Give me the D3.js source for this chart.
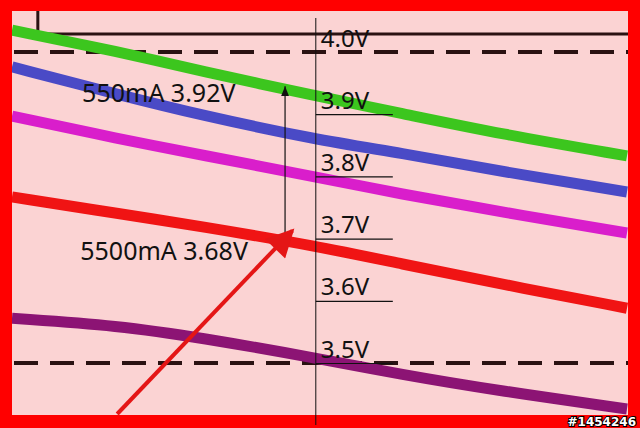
<!DOCTYPE html>
<html><head><meta charset="utf-8">
<script src="https://cdn.jsdelivr.net/npm/d3@7"></script>
<style>html,body{margin:0;padding:0;background:#ff0000;}svg{display:block;}</style>
</head><body>
<svg id="c" width="640" height="428"></svg>
<script>
// Data (x = relative discharge position 0..100, values = voltage in V)
const xs       = [0, 17.5, 30.5, 49.5, 63, 79.5, 100];
const green    = [4.035, 4.000, 3.970, 3.929, 3.902, 3.868, 3.833];
const blue     = [3.976, 3.931, 3.899, 3.859, 3.838, 3.808, 3.775];
const magenta  = [3.897, 3.860, 3.835, 3.799, 3.772, 3.743, 3.709];
const red      = [3.767, 3.740, 3.720, 3.688, 3.660, 3.627, 3.588];
const purple   = [3.572, 3.560, 3.541, 3.508, 3.482, 3.455, 3.426];
const tickVals = [4.0, 3.9, 3.8, 3.7, 3.6, 3.5];
const tickLabels = ["4.0V", "3.9V", "3.8V", "3.7V", "3.6V", "3.5V"];
const refLevels = [4.0, 3.5];
const annotations = [
  {text: "550mA 3.92V", x: 11.4, v: 3.92},
  {text: "5500mA 3.68V", x: 11.1, v: 3.665}
];
const measureX = 44.4, measureV = [3.945, 3.677];
const pointerFrom = [17.1, 3.418], pointerTo = [45.6, 3.713];
const yAxisX = 49.4;

const series = [
  {name: "green", values: green, color: "#3cc61e"},
  {name: "blue", values: blue, color: "#4a4ac6"},
  {name: "magenta", values: magenta, color: "#d91ecb"},
  {name: "red", values: red, color: "#f01414"},
  {name: "purple", values: purple, color: "#8c1474"}
];

const svg = d3.select("#c");
const L = 12, R = 628, T = 11, B = 415;
const x = d3.scaleLinear().domain([0, 100]).range([L, 627]);
const y = d3.scaleLinear().domain([3.5, 4.0]).range([363, 52]);

svg.append("rect").attr("width", 640).attr("height", 428).attr("fill", "#ff0000");
svg.append("rect").attr("x", L).attr("y", T).attr("width", R - L).attr("height", B - T).attr("fill", "#fbd3d3");

const defs = svg.append("defs");
defs.append("clipPath").attr("id", "plot").append("rect")
  .attr("x", L).attr("y", T).attr("width", R - L).attr("height", B - T);

const g = svg.append("g").attr("clip-path", "url(#plot)");

// top-left bracket line
g.append("path")
  .attr("d", `M${x(4.2)},${T} V34 H${R}`)
  .attr("fill", "none").attr("stroke", "#2a1212").attr("stroke-width", 3);

// dashed reference levels
g.selectAll(".ref").data(refLevels).join("line")
  .attr("x1", L).attr("x2", R)
  .attr("y1", d => y(d)).attr("y2", d => y(d))
  .attr("stroke", "#2a1212").attr("stroke-width", 4)
  .attr("stroke-dasharray", "24 12").attr("stroke-dashoffset", -2);

const line = d3.line().x((d, i) => x(xs[i])).y(d => y(d)).curve(d3.curveBasis);
g.selectAll(".s").data(series).join("path")
  .attr("d", d => line(d.values))
  .attr("fill", "none").attr("stroke", d => d.color)
  .attr("stroke-width", 11).attr("stroke-linecap", "butt");

// axis
const axis = d3.axisRight(y).tickValues(tickVals).tickSize(77)
  .tickFormat((d, i) => tickLabels[i]);
const ag = svg.append("g").attr("transform", `translate(${x(yAxisX)},0)`).call(axis);
ag.select(".domain").remove();
ag.selectAll(".tick line").attr("stroke", "#111").attr("stroke-width", 1.2)
  .attr("opacity", d => d === 4.0 ? 0 : 1);
ag.selectAll(".tick text").attr("x", 5).attr("y", -6).attr("dy", 0)
  .attr("text-anchor", "start")
  .style("font-family", "'Noto Sans', 'Open Sans', sans-serif").style("font-size", "24px")
  .attr("fill", "#111");
svg.append("line").attr("x1", x(yAxisX)).attr("x2", x(yAxisX)).attr("y1", 18).attr("y2", 425)
  .attr("stroke", "#111").attr("stroke-width", 1);

// measurement double arrow
defs.append("marker").attr("id", "ah").attr("viewBox", "0 0 10 10")
  .attr("refX", 10).attr("refY", 5).attr("markerWidth", 10).attr("markerHeight", 10)
  .attr("markerUnits", "userSpaceOnUse").attr("orient", "auto-start-reverse")
  .append("path").attr("d", "M0,1 L10,5 L0,9 Z").attr("fill", "#111");
svg.append("line")
  .attr("x1", x(measureX)).attr("x2", x(measureX))
  .attr("y1", y(measureV[0])).attr("y2", y(measureV[1]))
  .attr("stroke", "#111").attr("stroke-width", 1.2)
  .attr("marker-start", "url(#ah)").attr("marker-end", "url(#ah)");

// red pointer arrow
defs.append("marker").attr("id", "rh").attr("viewBox", "0 0 10 10")
  .attr("refX", 9).attr("refY", 5).attr("markerWidth", 32).attr("markerHeight", 28)
  .attr("markerUnits", "userSpaceOnUse").attr("orient", "auto")
  .append("path").attr("d", "M0,0 L10,5 L0,10 Z").attr("fill", "#e41616");
svg.append("line")
  .attr("x1", x(pointerFrom[0])).attr("y1", y(pointerFrom[1]))
  .attr("x2", x(pointerTo[0])).attr("y2", y(pointerTo[1]))
  .attr("stroke", "#e41616").attr("stroke-width", 4)
  .attr("marker-end", "url(#rh)");

// annotation texts
svg.selectAll(".ann").data(annotations).join("text")
  .attr("x", d => x(d.x)).attr("y", d => y(d.v))
  .text(d => d.text)
  .style("font-family", "'Noto Sans', 'Open Sans', sans-serif").style("font-size", "25px")
  .attr("fill", "#111");

// watermark
svg.append("text").attr("x", 636).attr("y", 426).attr("text-anchor", "end")
  .text("#1454246")
  .style("font-family", "'DejaVu Sans', sans-serif").style("font-size", "12px").style("font-weight", "bold")
  .attr("fill", "#fff").attr("stroke", "#000").attr("stroke-width", 2).attr("paint-order", "stroke");
</script>
</body></html>
